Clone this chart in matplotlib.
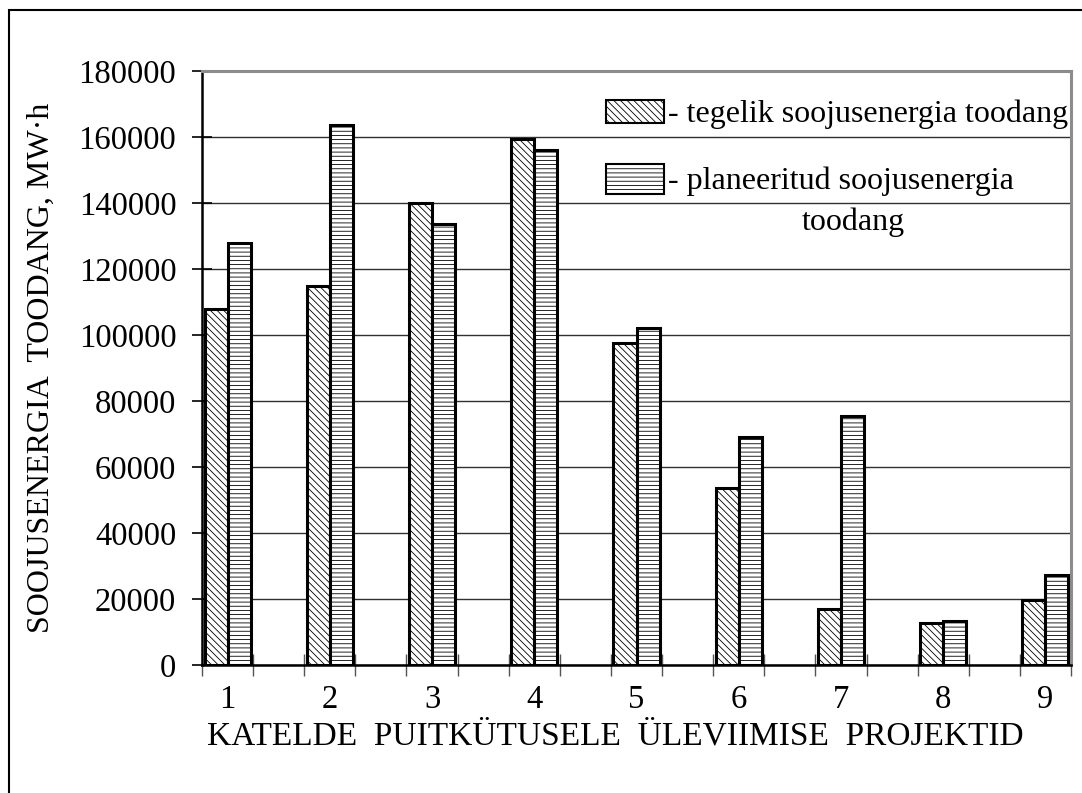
import matplotlib.pyplot as plt
import numpy as np
from matplotlib.patches import Rectangle

plt.rcParams['font.family'] = ['Liberation Serif', 'DejaVu Serif']
plt.rcParams['hatch.linewidth'] = 0.6

# andmed
projektid = ['1', '2', '3', '4', '5', '6', '7', '8', '9']
tegelik = [108000, 115000, 140000, 159500, 97500, 53500, 17000, 12700, 19700]
planeeritud = [128000, 163500, 133500, 156000, 102000, 69000, 75500, 13400, 27300]
y_ticks = [0, 20000, 40000, 60000, 80000, 100000, 120000, 140000, 160000, 180000]

fig = plt.figure(figsize=(10.82, 7.93), dpi=100)
ax = fig.add_axes([202/1082, 1 - 665/793, 869/1082, 594/793])

# iga projekt võtab kaks "lahtrit", teine jääb tühjaks
x = np.arange(len(projektid)) * 2
w = 0.45
ax.bar(x - w/2, tegelik, width=w, color='white', edgecolor='black',
       linewidth=2.2, hatch='\\\\\\\\\\', zorder=3)
ax.bar(x + w/2, planeeritud, width=w, color='white', edgecolor='black',
       linewidth=2.2, hatch='----', zorder=3)

ax.set_xlim(-0.5, x[-1] + 0.5)
ax.set_ylim(0, 180000)

# teljed
ax.set_yticks(y_ticks)
ax.set_yticklabels([str(v) for v in y_ticks], fontsize=23.5)
ax.tick_params(axis='y', direction='inout', length=15, width=1.2, pad=11)
ax.set_xticks(np.arange(-0.5, x[-1] + 1, 1))
ax.set_xticklabels([])
ax.tick_params(axis='x', which='major', direction='inout', length=16,
               width=1, color='#555555')
ax.set_xticks(x, minor=True)
ax.set_xticklabels(projektid, minor=True, fontsize=23.5)
ax.tick_params(axis='x', which='minor', length=0, pad=14)

ax.yaxis.grid(True, color='#303030', linewidth=1, zorder=0)
ax.set_axisbelow(True)

for s in ['left', 'bottom']:
    ax.spines[s].set_color('black')
    ax.spines[s].set_linewidth(1.8)
for s in ['top', 'right']:
    ax.spines[s].set_color('#8c8c8c')
    ax.spines[s].set_linewidth(2.2)

ax.set_ylabel('SOOJUSENERGIA  TOODANG, MW·h', fontsize=23)
ax.yaxis.set_label_coords(-0.168, 0.5)
ax.set_xlabel('KATELDE  PUITKÜTUSELE  ÜLEVIIMISE  PROJEKTID', fontsize=24, va='center')
ax.xaxis.set_label_coords(0.476, -0.1195)

# legend käsitsi
tf = ax.transAxes
def px(xp, yp):
    return ((xp - 202) / 869, (665 - yp) / 594)

r1 = Rectangle(px(606, 123), 58/869, 23/594, transform=tf, facecolor='white',
               edgecolor='black', linewidth=1.5, hatch='\\\\\\\\\\', zorder=5)
r2 = Rectangle(px(606, 194), 58/869, 30/594, transform=tf, facecolor='white',
               edgecolor='black', linewidth=1.5, hatch='----', zorder=5)
ax.add_patch(r1)
ax.add_patch(r2)
ax.text(*px(668, 114), '- tegelik soojusenergia toodang', transform=tf,
        fontsize=23, va='center', ha='left')
ax.text(*px(668, 181), '- planeeritud soojusenergia', transform=tf,
        fontsize=23, va='center', ha='left')
ax.text(*px(853, 222), 'toodang', transform=tf,
        fontsize=23, va='center', ha='center')

# välimine raam
fig.add_artist(Rectangle((9/1082, -0.1), 1.2, 1.1 - 10/793, transform=fig.transFigure,
                         fill=False, edgecolor='black', linewidth=1.5))

fig.savefig('out.png', dpi=100)
